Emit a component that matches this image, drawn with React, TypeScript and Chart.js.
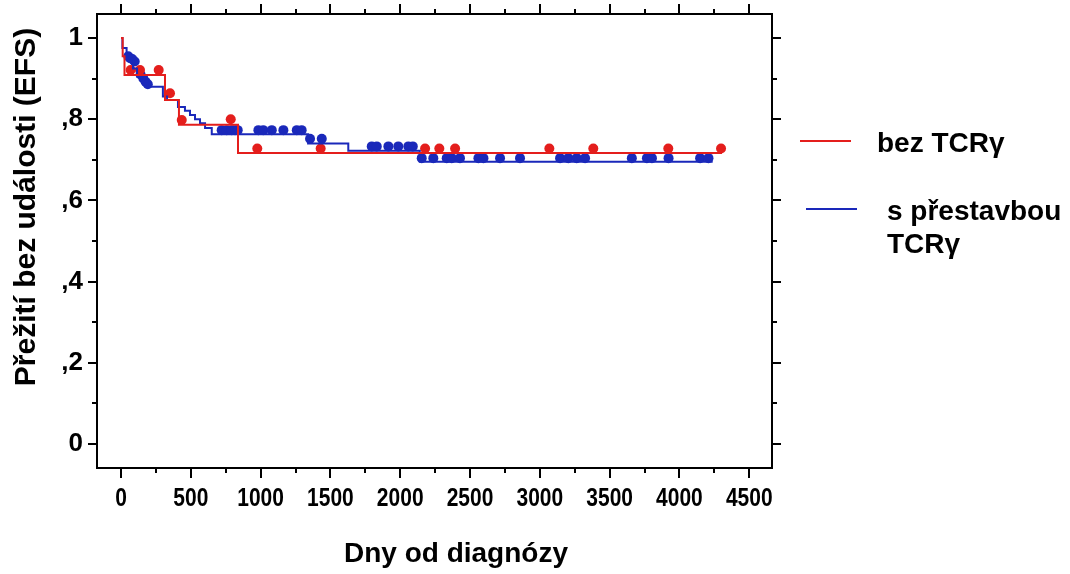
import React, { useEffect, useRef } from 'react';
import { Chart, registerables } from 'chart.js';

Chart.register(...registerables);

const FONT = "'Liberation Sans', Arial, Helvetica, sans-serif";
const RED = 'rgb(228, 30, 28)';
const BLUE = 'rgb(26, 40, 186)';

// ---- axes / ticks ----
const xMajorTicks = [0, 500, 1000, 1500, 2000, 2500, 3000, 3500, 4000, 4500];
const xMinorTicks = [250, 750, 1250, 1750, 2250, 2750, 3250, 3750, 4250];
const yMajorTicks = [0, 0.2, 0.4, 0.6, 0.8, 1.0];
const yTickLabels = ['0', ',2', ',4', ',6', ',8', '1'];
const yMinorTicks = [0.1, 0.3, 0.5, 0.7, 0.9];

const xTitle = 'Dny od diagnózy';
const yTitle = 'Přežití bez události (EFS)';
const redLegend = ['bez TCRγ'];
const blueLegend = ['s přestavbou', 'TCRγ'];

// ---- Kaplan-Meier steps: bez TCRγ (red) ----
const redStepDays = [0, 12, 25, 315, 415, 838, 4305];
const redStepSurv = [1.0, 0.955, 0.909, 0.847, 0.786, 0.717, 0.717];
// censored marks (red)
const redCensDays = [69, 136, 270, 351, 435, 786, 976, 1430, 2178, 2280, 2393, 3068, 3383, 3920, 4298];
const redCensSurv = [0.921, 0.921, 0.921, 0.864, 0.798, 0.8, 0.728, 0.728, 0.728, 0.728, 0.728, 0.728, 0.728, 0.728, 0.728];

// ---- Kaplan-Meier steps: s přestavbou TCRγ (blue) ----
const blueStepDays = [0, 10, 40, 86, 115, 150, 193, 300, 330, 408, 458, 494, 530, 566, 602, 650, 1340, 1628, 2140, 4238];
const blueStepSurv = [1.0, 0.975, 0.95, 0.925, 0.905, 0.893, 0.88, 0.856, 0.847, 0.83, 0.821, 0.81, 0.8, 0.79, 0.778, 0.763, 0.74, 0.722, 0.695, 0.695];
// censored marks (blue)
const blueCensDays = [52, 65, 80, 98, 140, 160, 176, 192,
  721, 757, 793, 817, 836, 984, 1019, 1080, 1163, 1259, 1294,
  1354, 1438,
  1796, 1832, 1915, 1986, 2058, 2090,
  2154, 2237, 2333, 2369, 2428, 2560, 2596, 2715, 2858, 3145, 3204, 3264, 3324, 3659, 3767, 3803, 3922, 4148, 4208];
const blueCensSurv = [0.955, 0.95, 0.948, 0.942, 0.91, 0.9, 0.892, 0.886,
  0.773, 0.773, 0.773, 0.773, 0.773, 0.773, 0.773, 0.773, 0.773, 0.773, 0.773,
  0.752, 0.752,
  0.733, 0.733, 0.733, 0.733, 0.733, 0.733,
  0.704, 0.704, 0.704, 0.704, 0.704, 0.704, 0.704, 0.704, 0.704, 0.704, 0.704, 0.704, 0.704, 0.704, 0.704, 0.704, 0.704, 0.704, 0.704];

const zip = (xs: number[], ys: number[]) => xs.map((x, i) => ({ x, y: ys[i] }));

const decorPlugin = {
  id: 'decor',
  afterDraw(chart: any) {
    const { ctx, chartArea } = chart;
    const xs = chart.scales.x;
    const ys = chart.scales.y;
    const { left, right, top, bottom } = chartArea;
    ctx.save();
    ctx.strokeStyle = '#000';
    ctx.fillStyle = '#000';
    ctx.lineWidth = 2;
    ctx.strokeRect(left, top, right - left, bottom - top);

    const tick = (x1: number, y1: number, x2: number, y2: number) => {
      ctx.beginPath();
      ctx.moveTo(x1, y1);
      ctx.lineTo(x2, y2);
      ctx.stroke();
    };
    xMajorTicks.forEach((v) => {
      const p = Math.round(xs.getPixelForValue(v));
      tick(p, bottom, p, bottom + 10);
      tick(p, top, p, top - 10);
    });
    xMinorTicks.forEach((v) => {
      const p = Math.round(xs.getPixelForValue(v));
      tick(p, bottom, p, bottom + 5);
      tick(p, top, p, top - 5);
    });
    yMajorTicks.forEach((v) => {
      const p = Math.round(ys.getPixelForValue(v));
      tick(left, p, left - 9, p);
      tick(right, p, right + 9, p);
    });
    yMinorTicks.forEach((v) => {
      const p = Math.round(ys.getPixelForValue(v));
      tick(left, p, left - 5, p);
      tick(right, p, right + 5, p);
    });

    // x tick labels (condensed bold)
    ctx.font = `bold 25px ${FONT}`;
    ctx.textAlign = 'center';
    ctx.textBaseline = 'middle';
    xMajorTicks.forEach((v) => {
      ctx.save();
      ctx.translate(xs.getPixelForValue(v), bottom + 31);
      ctx.scale(0.84, 1);
      ctx.fillText(String(v), 0, 0);
      ctx.restore();
    });
    ctx.font = `bold 26px ${FONT}`;
    ctx.textAlign = 'right';
    yMajorTicks.forEach((v, i) => {
      ctx.fillText(yTickLabels[i], left - 14, ys.getPixelForValue(v));
    });

    // axis titles
    ctx.font = `bold 28px ${FONT}`;
    ctx.textAlign = 'center';
    ctx.textBaseline = 'alphabetic';
    ctx.fillText(xTitle, 456, 562);
    ctx.save();
    ctx.translate(35, 207);
    ctx.rotate(-Math.PI / 2);
    ctx.font = `bold 30px ${FONT}`;
    ctx.fillText(yTitle, 0, 0);
    ctx.restore();

    // legend
    const legendX = right + 28;
    ctx.lineWidth = 2;
    ctx.strokeStyle = RED;
    tick(legendX, 141, legendX + 51, 141);
    ctx.strokeStyle = BLUE;
    tick(legendX + 6, 209, legendX + 57, 209);
    ctx.font = `bold 28px ${FONT}`;
    ctx.textAlign = 'left';
    ctx.fillStyle = '#000';
    redLegend.forEach((t, i) => ctx.fillText(t, legendX + 77, 152 + i * 33));
    blueLegend.forEach((t, i) => ctx.fillText(t, legendX + 87, 220 + i * 33));
    ctx.restore();
  },
};

export default function App() {
  const ref = useRef<HTMLCanvasElement | null>(null);
  useEffect(() => {
    if (!ref.current) return;
    const chart = new Chart(ref.current, {
      type: 'line',
      data: {
        datasets: [
          {
            label: 'bez TCRγ',
            data: zip(redStepDays, redStepSurv),
            borderColor: RED,
            borderWidth: 2,
            stepped: 'before',
            pointRadius: 0,
            fill: false,
          },
          {
            label: 's přestavbou TCRγ',
            data: zip(blueStepDays, blueStepSurv),
            borderColor: BLUE,
            borderWidth: 2,
            stepped: 'before',
            pointRadius: 0,
            fill: false,
          },
          {
            type: 'scatter',
            label: 'bez TCRγ censored',
            data: zip(redCensDays, redCensSurv),
            backgroundColor: RED,
            borderColor: RED,
            pointRadius: 5,
            pointBorderWidth: 0,
            showLine: false,
          } as any,
          {
            type: 'scatter',
            label: 's přestavbou TCRγ censored',
            data: zip(blueCensDays, blueCensSurv),
            backgroundColor: BLUE,
            borderColor: BLUE,
            pointRadius: 5,
            pointBorderWidth: 0,
            showLine: false,
          } as any,
        ],
      },
      options: {
        animation: false,
        responsive: false,
        devicePixelRatio: 1,
        layout: { padding: { left: 97, top: 14, right: 298, bottom: 106 } },
        plugins: { legend: { display: false }, tooltip: { enabled: false } },
        scales: {
          x: { type: 'linear', min: -172, max: 4663, display: false },
          y: { type: 'linear', min: -0.059, max: 1.059, display: false },
        },
      },
      plugins: [decorPlugin],
    });
    return () => chart.destroy();
  }, []);
  return (
    <div style={{ position: 'fixed', left: 0, top: 0, width: 1070, height: 574, background: '#fff' }}>
      <canvas ref={ref} width={1070} height={574} style={{ display: 'block' }} />
    </div>
  );
}
